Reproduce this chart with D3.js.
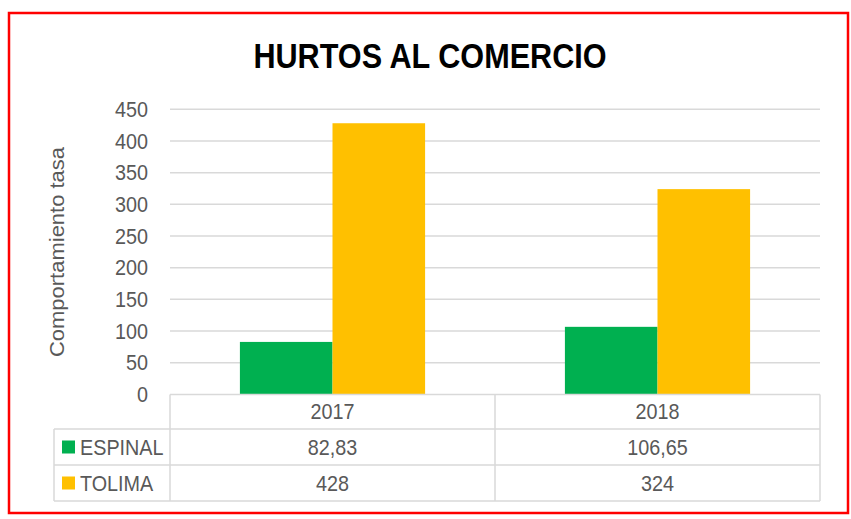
<!DOCTYPE html>
<html>
<head>
<meta charset="utf-8">
<script src="https://cdn.jsdelivr.net/npm/d3@7"></script>
<style>
  body { margin: 0; background: #fff; }
  text { font-family: "Liberation Sans", Arial, sans-serif; }
</style>
</head>
<body>
<div id="chart"></div>
<script>
// chart data
const years = ["2017", "2018"];
const seriesNames = ["ESPINAL", "TOLIMA"];
const espinal = [82.83, 106.65];
const tolima = [428, 324];
const yTicks = [0, 50, 100, 150, 200, 250, 300, 350, 400, 450];
const seriesColors = ["#00b050", "#ffc000"];

const width = 851, height = 519;
const plot = { left: 170, right: 820, top: 109.3, bottom: 394.4 };
const rowH = [34.6, 36, 36];   // table row heights (header, espinal, tolima)
const tableLeft = 54;
const gridColor = "#d9d9d9";
const textColor = "#595959";
const squeeze = 0.9;   // the original font is a narrow one
const fontSize = 22;

const values = [espinal, tolima];
const fmt = v => String(v).replace(".", ",");

const svg = d3.select("#chart").append("svg")
    .attr("width", width)
    .attr("height", height);

// put a text at x,y squeezed horizontally
function label(parent, tx, ty, str, anchor) {
    return parent.append("text")
        .attr("transform", `translate(${tx},${ty}) scale(${squeeze},1)`)
        .attr("dy", "0.35em")
        .attr("text-anchor", anchor || "middle")
        .attr("font-size", fontSize)
        .attr("fill", textColor)
        .text(str);
}

// outer red frame
svg.append("rect")
    .attr("x", 9).attr("y", 13)
    .attr("width", 839).attr("height", 500)
    .attr("fill", "none")
    .attr("stroke", "#ff0000")
    .attr("stroke-width", 2.5);

// title
svg.append("text")
    .attr("transform", "translate(430,67.5) scale(0.875,1)")
    .attr("text-anchor", "middle")
    .attr("font-size", 35)
    .attr("font-weight", "bold")
    .attr("fill", "#000")
    .text("HURTOS AL COMERCIO");

const y = d3.scaleLinear().domain([0, 450]).range([plot.bottom, plot.top]);
const x = d3.scaleBand().domain(years).range([plot.left, plot.right]).padding(0);

// excel-ish gap width of 151%
const gapRatio = 1.51;
const barW = x.bandwidth() / (seriesNames.length + gapRatio);
const xs = d3.scaleBand()
    .domain(seriesNames)
    .range([barW * gapRatio / 2, barW * gapRatio / 2 + barW * seriesNames.length]);

// gridlines
svg.append("g").selectAll("line")
    .data(yTicks.filter(d => d > 0))
    .join("line")
    .attr("x1", plot.left).attr("x2", plot.right)
    .attr("y1", d => y(d)).attr("y2", d => y(d))
    .attr("stroke", gridColor)
    .attr("stroke-width", 1.5);

// y axis labels
const yAxis = svg.append("g")
    .attr("transform", `translate(${plot.left - 22},0)`)
    .call(d3.axisLeft(y).tickValues(yTicks).tickSize(0).tickPadding(0));
yAxis.select(".domain").remove();
yAxis.selectAll("text")
    .attr("x", 0)
    .attr("transform", `scale(${squeeze},1)`)
    .attr("font-size", fontSize)
    .attr("fill", textColor)
    .attr("font-family", null);

svg.append("text")
    .attr("transform", `translate(64,252) scale(${squeeze},1) rotate(-90)`)
    .attr("text-anchor", "middle")
    .attr("font-size", fontSize)
    .attr("fill", textColor)
    .text("Comportamiento tasa");

// bars
seriesNames.forEach((s, si) => {
    svg.append("g").selectAll("rect")
        .data(years.map((yr, i) => ({ year: yr, value: values[si][i] })))
        .join("rect")
        .attr("x", d => x(d.year) + xs(s))
        .attr("width", xs.bandwidth())
        .attr("y", d => y(d.value))
        .attr("height", d => y(0) - y(d.value))
        .attr("fill", seriesColors[si]);
});

// data table
const rowY = [plot.bottom];
rowH.forEach(h => rowY.push(rowY[rowY.length - 1] + h));
const table = svg.append("g")
    .attr("stroke", gridColor)
    .attr("stroke-width", 1.5);

table.append("line")
    .attr("x1", plot.left).attr("x2", plot.right)
    .attr("y1", rowY[0]).attr("y2", rowY[0]);
rowY.slice(1).forEach(ry => {
    table.append("line")
        .attr("x1", tableLeft).attr("x2", plot.right)
        .attr("y1", ry).attr("y2", ry);
});
table.append("line")
    .attr("x1", tableLeft).attr("x2", tableLeft)
    .attr("y1", rowY[1]).attr("y2", rowY[3]);
[plot.left, ...years.slice(1).map(d => x(d)), plot.right].forEach(vx => {
    table.append("line")
        .attr("x1", vx).attr("x2", vx)
        .attr("y1", rowY[0]).attr("y2", rowY[3]);
});

// header
const cells = svg.append("g");
years.forEach(yr => {
    label(cells, x(yr) + x.bandwidth() / 2, (rowY[0] + rowY[1]) / 2, yr);
});

// series rows
seriesNames.forEach((s, si) => {
    const cy = (rowY[si + 1] + rowY[si + 2]) / 2;
    svg.append("rect")
        .attr("x", 62).attr("y", cy - 6.5)
        .attr("width", 13).attr("height", 13)
        .attr("fill", seriesColors[si]);
    label(cells, 80, cy, s, "start");
    years.forEach((yr, i) => {
        label(cells, x(yr) + x.bandwidth() / 2, cy, fmt(values[si][i]));
    });
});
</script>
</body>
</html>
